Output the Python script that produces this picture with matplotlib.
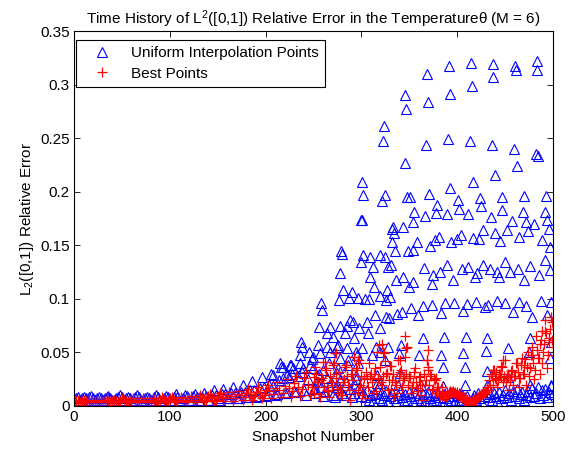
import numpy as np
import matplotlib
matplotlib.use("Agg")
import matplotlib.pyplot as plt

plt.rcParams['font.family'] = ['Liberation Sans', 'DejaVu Sans']
plt.rcParams['font.size'] = 11

# blue triangles (uniform interpolation points), snapshots 2..200 step 2
blue_early_x = np.arange(2, 201, 2)
blue_early_y = [
    0.007, 0.008, 0.006, 0.007, 0.008, 0.007, 0.006, 0.008, 0.009, 0.007,
    0.006, 0.007, 0.008, 0.007, 0.006, 0.007, 0.008, 0.009, 0.007, 0.006,
    0.006, 0.007, 0.008, 0.010, 0.008, 0.006, 0.007, 0.008, 0.007, 0.006,
    0.006, 0.008, 0.010, 0.008, 0.006, 0.006, 0.007, 0.008, 0.007, 0.006,
    0.006, 0.008, 0.010, 0.008, 0.006, 0.005, 0.007, 0.009, 0.008, 0.006,
    0.006, 0.008, 0.011, 0.008, 0.006, 0.005, 0.007, 0.010, 0.009, 0.006,
    0.006, 0.009, 0.011, 0.008, 0.006, 0.005, 0.008, 0.012, 0.009, 0.006,
    0.006, 0.010, 0.015, 0.010, 0.007, 0.006, 0.011, 0.016, 0.011, 0.007,
    0.007, 0.012, 0.018, 0.012, 0.007, 0.007, 0.013, 0.020, 0.013, 0.008,
    0.008, 0.015, 0.023, 0.015, 0.008, 0.009, 0.017, 0.027, 0.018, 0.009,
]

# blue lower band, snapshots 202..500 step 2
blue_base_x = np.arange(202, 501, 2)
blue_base_y = [
    0.010, 0.020, 0.030, 0.019, 0.010, 0.011, 0.024, 0.036, 0.026, 0.012,
    0.012, 0.027, 0.038, 0.030, 0.014, 0.013, 0.028, 0.040, 0.032, 0.015,
    0.010, 0.025, 0.038, 0.044, 0.016, 0.012, 0.022, 0.030, 0.018, 0.009,
    0.014, 0.026, 0.040, 0.022, 0.010, 0.008, 0.018, 0.035, 0.024, 0.012,
    0.010, 0.022, 0.038, 0.016, 0.008, 0.012, 0.025, 0.040, 0.018, 0.009,
    0.012, 0.008, 0.015, 0.006, 0.010, 0.005, 0.011, 0.016, 0.007, 0.012,
    0.006, 0.010, 0.014, 0.005, 0.009, 0.012, 0.007, 0.005, 0.010, 0.014,
    0.008, 0.005, 0.011, 0.006, 0.013, 0.009, 0.005, 0.012, 0.007, 0.010,
    0.006, 0.011, 0.005, 0.009, 0.013, 0.007, 0.004, 0.010, 0.006, 0.012,
    0.008, 0.005, 0.011, 0.007, 0.004, 0.009, 0.006, 0.012, 0.005, 0.010,
    0.006, 0.011, 0.008, 0.004, 0.009, 0.005, 0.004, 0.007, 0.010, 0.006,
    0.012, 0.007, 0.004, 0.009, 0.013, 0.008, 0.011, 0.006, 0.012, 0.009,
    0.005, 0.013, 0.007, 0.010, 0.015, 0.008, 0.012, 0.006, 0.014, 0.009,
    0.016, 0.007, 0.011, 0.013, 0.006, 0.010, 0.014, 0.008, 0.017, 0.009,
    0.012, 0.018, 0.007, 0.015, 0.010, 0.016, 0.008, 0.013, 0.019, 0.011,
]

blue_hi_x = [
    345.5, 346.6, 368, 370, 391.5, 392.5, 414, 415.5, 437, 437.7, 460, 461, 483.6, 483,
    324, 323, 345, 367.4, 390.7, 413.4, 436.3, 459.3, 462, 482.3, 484.7,
    301, 302, 325, 322, 348, 300, 355, 354, 332.7, 343.7, 439.5, 416, 393, 370.6,
    350.7, 378.6, 401, 423.8, 447, 469.7, 492.7, 366.5, 377.9, 389, 402, 411.6,
    424.5, 435.3, 446.5, 457.5, 469, 471.8, 480.2, 491.6, 493.7,
    300.3, 332, 334, 331.6, 335, 349, 354, 358, 371.6, 376.8, 381.4, 394, 400,
    403.6, 416.8, 422.4, 427.3, 439.5, 444.7, 452.3, 465, 474, 488, 496, 497,
    278.4, 279.4, 277.7, 302, 299.3, 309, 311.8, 309, 319.4, 324.6, 328, 330.6,
    336, 343, 350, 353.5, 365, 375, 382, 373.4, 389, 396, 404.7, 411.6, 420.3,
    418.6, 427.3, 434.3, 441.2, 444, 450, 455, 463, 470, 476, 485, 492, 497,
    280.5, 289.9, 287.4, 277, 296.8, 303.8, 308.3, 313.2, 319.4, 326.4, 325.7,
    314.2, 325.7, 330, 329, 336.8, 342, 351.4, 359.4, 364, 373.4, 382.7, 387.3,
    396.7, 405.7, 410.6, 419.6, 429, 432.5, 441.9, 450, 319.4, 458, 464, 472,
    478, 487, 494, 498,
    257.5, 258.5, 256, 267.2, 263.7, 270, 277.7, 284.6, 282.9, 288.1, 291.6,
    297.8, 305.5, 307.2, 292.3, 285.3, 275.9, 315.2,
    236.6, 237.7, 235.9, 245.6, 249.2, 255, 256.8, 263.7, 267.2, 274.2, 294.4,
    300.3, 277.7, 286.3, 295.7, 310.7, 319.4, 328, 324.6, 215, 217.8, 225.5,
    229, 239.4, 249.8, 260.3, 274.2, 294.4, 316, 208, 222, 251.6, 274.2, 293.3,
    316,
    364, 386.2, 409.2, 431.4, 453.4, 341, 339.6, 360.4, 383, 406.4, 430, 385.5,
    408, 431.4, 340.3, 338.6, 362, 384.8, 408, 430.8, 453.4, 319.4,
    476, 498, 475, 497, 476, 498,
]
blue_hi_y = [
    0.290, 0.277, 0.310, 0.284, 0.317, 0.291, 0.320, 0.299, 0.319, 0.307, 0.317, 0.314, 0.322, 0.314,
    0.261, 0.247, 0.227, 0.244, 0.249, 0.247, 0.244, 0.240, 0.224, 0.235, 0.233,
    0.209, 0.197, 0.197, 0.191, 0.195, 0.174, 0.181, 0.172, 0.167, 0.167, 0.216, 0.209, 0.203, 0.198,
    0.195, 0.188, 0.192, 0.194, 0.195, 0.196, 0.196, 0.177, 0.180, 0.179, 0.184, 0.179,
    0.187, 0.176, 0.183, 0.173, 0.181, 0.172, 0.170, 0.181, 0.174,
    0.1735, 0.165, 0.161, 0.153, 0.145, 0.145, 0.146, 0.153, 0.149, 0.155, 0.158, 0.153, 0.156,
    0.160, 0.157, 0.156, 0.164, 0.161, 0.154, 0.164, 0.158, 0.163, 0.155, 0.165, 0.148,
    0.145, 0.142, 0.124, 0.141, 0.134, 0.139, 0.130, 0.1206, 0.141, 0.139, 0.130, 0.1315,
    0.118, 0.1206, 0.111, 0.116, 0.129, 0.122, 0.125, 0.114, 0.1315, 0.1175, 0.1275, 0.130, 0.124,
    0.120, 0.1315, 0.128, 0.125, 0.1206, 0.1346, 0.125, 0.128, 0.118, 0.131, 0.122, 0.136, 0.127,
    0.108, 0.1066, 0.1005, 0.099, 0.1005, 0.0995, 0.0995, 0.111, 0.1026, 0.108, 0.099,
    0.0849, 0.083, 0.102, 0.082, 0.0855, 0.088, 0.091, 0.085, 0.093, 0.094, 0.0865, 0.096,
    0.096, 0.089, 0.095, 0.0973, 0.092, 0.094, 0.098, 0.096, 0.0725, 0.088, 0.097, 0.093,
    0.083, 0.098, 0.085, 0.097,
    0.0958, 0.0896, 0.0734, 0.074, 0.0678, 0.0647, 0.0746, 0.0746, 0.0678, 0.080, 0.0787,
    0.0725, 0.0787, 0.0678, 0.063, 0.0538, 0.0569, 0.0553,
    0.060, 0.0553, 0.0476, 0.0507, 0.046, 0.0569, 0.049, 0.0553, 0.0507, 0.0553, 0.0507,
    0.0538, 0.0445, 0.0429, 0.0476, 0.0476, 0.0507, 0.0553, 0.0429, 0.0398, 0.0367, 0.0382,
    0.0352, 0.0352, 0.0352, 0.0336, 0.0305, 0.0289, 0.0289, 0.0289, 0.0289, 0.0165, 0.0196, 0.0196,
    0.0212,
    0.063, 0.0647, 0.0647, 0.063, 0.0538, 0.057, 0.049, 0.0476, 0.0476, 0.049, 0.0516, 0.036,
    0.036, 0.033, 0.0305, 0.0196, 0.0196, 0.019, 0.0196, 0.0196, 0.0273, 0.021,
    0.063, 0.060, 0.050, 0.045, 0.020, 0.020,
]

# red crosses (best points), snapshots 2..500 step 2
red_x = np.arange(2, 501, 2)
red_y = [
    0.005, 0.006, 0.004, 0.005, 0.006, 0.005, 0.004, 0.006, 0.005, 0.004,
    0.005, 0.006, 0.005, 0.004, 0.005, 0.006, 0.007, 0.005, 0.004, 0.005,
    0.006, 0.005, 0.004, 0.005, 0.007, 0.006, 0.005, 0.004, 0.005, 0.006,
    0.007, 0.005, 0.004, 0.005, 0.006, 0.007, 0.005, 0.004, 0.005, 0.006,
    0.007, 0.006, 0.004, 0.005, 0.006, 0.008, 0.006, 0.004, 0.005, 0.007,
    0.008, 0.006, 0.004, 0.005, 0.007, 0.008, 0.006, 0.004, 0.005, 0.007,
    0.009, 0.006, 0.004, 0.006, 0.008, 0.010, 0.007, 0.005, 0.006, 0.009,
    0.011, 0.007, 0.005, 0.006, 0.009, 0.012, 0.008, 0.005, 0.007, 0.010,
    0.013, 0.009, 0.005, 0.007, 0.011, 0.014, 0.010, 0.006, 0.008, 0.012,
    0.016, 0.011, 0.006, 0.009, 0.013, 0.018, 0.012, 0.007, 0.010, 0.015,
    0.020, 0.014, 0.007, 0.011, 0.017, 0.022, 0.015, 0.008, 0.012, 0.019,
    0.025, 0.017, 0.008, 0.014, 0.021, 0.028, 0.018, 0.009, 0.016, 0.026,
    0.032, 0.020, 0.010, 0.018, 0.027, 0.036, 0.022, 0.011, 0.024, 0.041,
    0.035, 0.015, 0.008, 0.022, 0.038, 0.049, 0.030, 0.012, 0.018, 0.010,
    0.025, 0.038, 0.020, 0.006, 0.030, 0.046, 0.035, 0.015, 0.043, 0.028,
    0.018, 0.007, 0.025, 0.040, 0.030, 0.012, 0.035, 0.050, 0.057, 0.022,
    0.058, 0.049, 0.030, 0.015, 0.037, 0.024, 0.009, 0.020, 0.043, 0.032,
    0.018, 0.026, 0.065, 0.055, 0.028, 0.012, 0.022, 0.035, 0.017, 0.027,
    0.010, 0.006, 0.020, 0.043, 0.052, 0.030, 0.015, 0.025, 0.012, 0.018,
    0.009, 0.010, 0.009, 0.008, 0.010, 0.012, 0.013, 0.014, 0.013, 0.013,
    0.012, 0.012, 0.010, 0.008, 0.006, 0.005, 0.004, 0.004, 0.005, 0.006,
    0.008, 0.009, 0.011, 0.012, 0.013, 0.015, 0.020, 0.028, 0.034, 0.025,
    0.018, 0.030, 0.037, 0.022, 0.043, 0.027, 0.015, 0.033, 0.020, 0.028,
    0.040, 0.018, 0.026, 0.045, 0.030, 0.020, 0.050, 0.035, 0.055, 0.025,
    0.065, 0.045, 0.030, 0.070, 0.050, 0.080, 0.035, 0.060, 0.083, 0.055,
]
# red crosses at odd snapshots 251..499 (dense cluster in the later part)
red_odd_x = np.arange(251, 500, 2)
red_odd_y = [
    0.012, 0.030, 0.022, 0.008, 0.026, 0.018, 0.034, 0.014, 0.028, 0.020,
    0.040, 0.026, 0.016, 0.032, 0.010, 0.022, 0.036, 0.028, 0.015, 0.030,
    0.024, 0.012, 0.034, 0.040, 0.020, 0.010, 0.026, 0.032, 0.018, 0.028,
    0.022, 0.030, 0.014, 0.026, 0.036, 0.020, 0.028, 0.042, 0.031, 0.024,
    0.016, 0.030, 0.022, 0.012, 0.028, 0.034, 0.024, 0.046, 0.030, 0.020,
    0.026, 0.018, 0.032, 0.022, 0.014, 0.028, 0.020, 0.030, 0.024, 0.034,
    0.020, 0.028, 0.016, 0.024, 0.018, 0.012, 0.010, 0.011, 0.012, 0.012,
    0.013, 0.014, 0.013, 0.012, 0.011, 0.010, 0.009, 0.007, 0.006, 0.005,
    0.004, 0.004, 0.005, 0.006, 0.007, 0.008, 0.010, 0.011, 0.012, 0.014,
    0.018, 0.024, 0.030, 0.020, 0.026, 0.032, 0.024, 0.030, 0.036, 0.028,
    0.022, 0.030, 0.024, 0.034, 0.028, 0.040, 0.032, 0.026, 0.038, 0.030,
    0.044, 0.036, 0.028, 0.048, 0.040, 0.034, 0.052, 0.045, 0.062, 0.040,
    0.058, 0.068, 0.048, 0.072, 0.062,
]
red_extra_x = [262, 273, 296, 317, 323, 331, 340, 347, 361, 368, 370, 378, 384,
               437, 446, 448, 453, 470, 478, 486, 492, 496, 499]
red_extra_y = [0.041, 0.049, 0.043, 0.025, 0.050, 0.037, 0.043, 0.054, 0.020, 0.043,
               0.036, 0.026, 0.018, 0.034, 0.027, 0.043, 0.027, 0.038, 0.048, 0.058,
               0.070, 0.063, 0.078]

fig = plt.figure(figsize=(5.68, 4.5), dpi=100)
ax = fig.add_axes([0.1303, 0.0978, 0.8433, 0.8333])

tri = dict(linestyle='none', marker='^', markersize=6.5, markerfacecolor='none',
           markeredgecolor='blue', markeredgewidth=0.8)
crs = dict(linestyle='none', marker='+', markersize=6.5, color='red', markeredgewidth=0.9)

ax.plot(blue_early_x, blue_early_y, **tri, label='Uniform Interpolation Points')
ax.plot(blue_base_x, blue_base_y, **tri)
ax.plot(blue_hi_x, blue_hi_y, **tri)
ax.plot(red_x, red_y, **crs, label='Best Points')
ax.plot(red_odd_x, red_odd_y, **crs)
ax.plot(red_extra_x, red_extra_y, **crs)

ax.set_xlim(0, 500)
ax.set_ylim(0, 0.35)
ax.set_xticks([0, 100, 200, 300, 400, 500])
ax.set_yticks([0, 0.05, 0.1, 0.15, 0.2, 0.25, 0.3, 0.35])
ax.set_yticklabels(['0', '0.05', '0.1', '0.15', '0.2', '0.25', '0.3', '0.35'])
ax.tick_params(direction='in', top=True, right=True, length=4, width=0.6, pad=3)
for s in ax.spines.values():
    s.set_linewidth(0.8)

ax.set_xlabel('Snapshot Number', labelpad=4)
ax.set_ylabel(r'$\mathregular{L_2}$([0,1]) Relative Error', labelpad=3)
ax.set_title(r'Time History of $\mathregular{L^2}$([0,1]) Relative Error in the Temperatureθ (M = 6)',
             fontsize=11, pad=5)

leg = ax.legend(loc='upper left', bbox_to_anchor=(0.005, 0.975), borderaxespad=0,
                fancybox=False, framealpha=1, edgecolor='black', borderpad=0.4,
                handlelength=2.6, handletextpad=0.6, labelspacing=0.4)
leg.get_frame().set_linewidth(0.8)

fig.savefig('out.png', dpi=100)
